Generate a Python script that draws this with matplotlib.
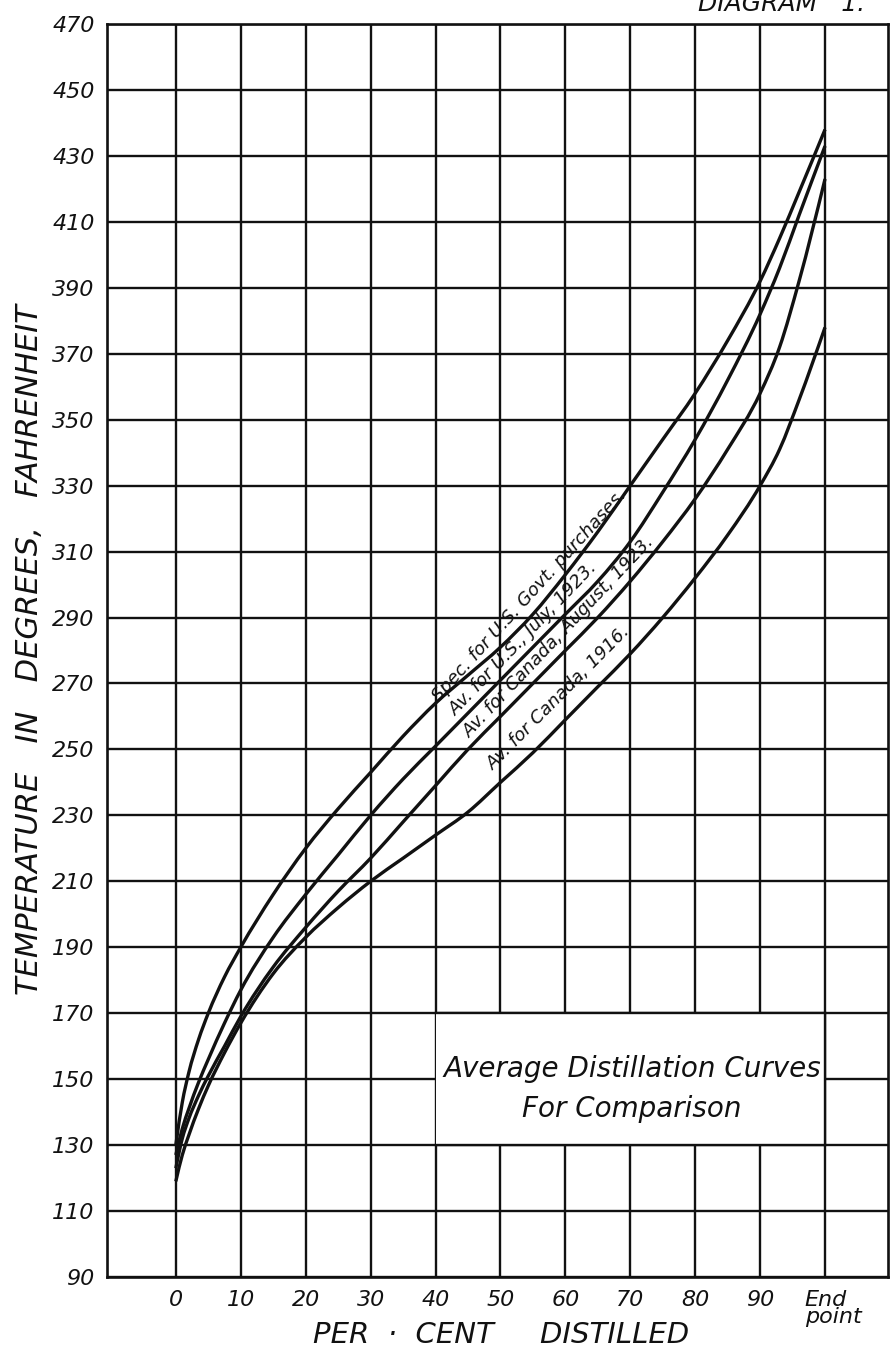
import math
import numpy as np
import matplotlib
matplotlib.use("Agg")
import matplotlib.pyplot as plt
import matplotlib.transforms as mtransforms
from matplotlib.patches import Rectangle, PathPatch
from matplotlib.path import Path

# per cent distilled (100 = end point)
pct = [0, 1, 2, 3.5, 5, 7.5, 10, 15, 20, 25, 30, 35, 40, 45, 50, 55, 60, 65, 70, 75, 80, 85, 90, 93, 96, 100]

spec_us_govt = [130, 143, 152, 162, 170, 181, 190, 206, 220, 232, 243, 254, 264, 272.5, 281, 291,
                303, 316, 330, 344, 358, 374, 392, 405, 419, 438]
av_us_1923 = [127, 135, 141, 149, 156, 167, 177, 193, 206, 218, 230, 241, 251, 261, 271, 281,
              291, 301, 313, 328, 344, 362, 382, 396, 412, 433]
av_canada_aug_1923 = [123, 132, 138, 145, 151, 160, 169, 184, 196, 207, 217, 228, 239, 250, 260, 270,
                      280, 290, 301, 313, 326, 341, 358, 372, 392, 423]
av_canada_1916 = [119, 127, 133, 141, 148, 158, 167, 182, 193, 202, 210, 217, 224, 231, 240, 249,
                  259, 269, 279, 290, 302, 315, 330, 341, 356, 378]

curve_labels = ["Spec. for U.S. Govt. purchases.", "Av. for U.S., July, 1923.",
                "Av. for Canada, August, 1923.", "Av. for Canada, 1916."]
# where along the curve each label is centred (per cent distilled)
label_centres = [54.5, 53.5, 59.0, 59.0]

x_ticks = [0, 10, 20, 30, 40, 50, 60, 70, 80, 90, 100]
x_ticklabels = ["0", "10", "20", "30", "40", "50", "60", "70", "80", "90", "End\npoint"]
y_ticks = list(range(90, 471, 20))

ink = "#111111"
font = dict(family="DejaVu Sans", style="italic", color=ink)


def smooth_curve(xs, ys):
    # cubic hermite segments written as bezier curves through the read points
    n = len(xs)
    h = [xs[i + 1] - xs[i] for i in range(n - 1)]
    d = [(ys[i + 1] - ys[i]) / h[i] for i in range(n - 1)]
    m = [0.0] * n
    for i in range(1, n - 1):
        m[i] = (d[i - 1] * h[i] + d[i] * h[i - 1]) / (h[i - 1] + h[i])
    m[0] = (3 * d[0] - m[1]) / 2
    m[-1] = (3 * d[-1] - m[-2]) / 2
    verts = [(xs[0], ys[0])]
    codes = [Path.MOVETO]
    for i in range(n - 1):
        verts += [(xs[i] + h[i] / 3, ys[i] + m[i] * h[i] / 3),
                  (xs[i + 1] - h[i] / 3, ys[i + 1] - m[i + 1] * h[i] / 3),
                  (xs[i + 1], ys[i + 1])]
        codes += [Path.CURVE4] * 3
    return Path(verts, codes)


fig = plt.figure(figsize=(8.9, 13.5), dpi=100)
ax = fig.add_axes([107 / 890, 1 - 1277 / 1350, 781 / 890, 1253 / 1350])
ax.set_xlim(-10.6, 109.7)
ax.set_ylim(90, 470)

# grid
for x in x_ticks:
    ax.axvline(x, color=ink, lw=1.7, zorder=1)
for y in y_ticks:
    ax.axhline(y, color=ink, lw=1.7, zorder=1)
for s in ax.spines.values():
    s.set_linewidth(1.9)
    s.set_color(ink)

# blank panel for the caption
ax.add_patch(Rectangle((40, 130), 60, 40, facecolor="white", edgecolor="none", zorder=2))
ax.plot([40, 100], [170, 170], color=ink, lw=1.7, zorder=2)
ax.plot([40, 100], [130, 130], color=ink, lw=1.7, zorder=2)
ax.plot([100, 100], [130, 170], color=ink, lw=1.7, zorder=2)
ax.text(70.3, 153, "Average Distillation Curves", ha="center", va="center", fontsize=20, zorder=3, **font)
ax.text(70.3, 141, "For Comparison", ha="center", va="center", fontsize=20, zorder=3, **font)

curves = [spec_us_govt, av_us_1923, av_canada_aug_1923, av_canada_1916]
for ys in curves:
    ax.add_patch(PathPatch(smooth_curve(pct, ys), fill=False, edgecolor=ink, lw=2.4, zorder=4))

# labels: straight text laid along the band between a curve and the one above it
renderer = fig.canvas.get_renderer()
xx = np.linspace(20, 95, 600)
for i, (txt, cx) in enumerate(zip(curve_labels, label_centres)):
    own = ax.transData.transform(np.column_stack([xx, np.interp(xx, pct, curves[i])]))
    if i == 0:
        band = own + np.array([0, 14])
    else:
        upper = ax.transData.transform(np.column_stack([xx, np.interp(xx, pct, curves[i - 1])]))
        share = 0.4 if i == 3 else 0.5
        band = own + share * (upper - own)
    t = ax.text(0, 0, txt, ha="center", va="center", rotation_mode="anchor",
                fontsize=13, zorder=5, **font)
    w = t.get_window_extent(renderer).width
    cxd = ax.transData.transform((cx, 0))[0]
    ang = math.radians(46)
    for _ in range(4):
        half = w / 2 * math.cos(ang) + 4
        sel = (band[:, 0] > cxd - half) & (band[:, 0] < cxd + half)
        slope, icpt = np.polyfit(band[sel, 0], band[sel, 1], 1)
        ang = math.atan(slope)
    cyd = slope * cxd + icpt
    t.set_position(ax.transData.inverted().transform((cxd, cyd)))
    t.set_rotation(math.degrees(ang))

ax.set_xticks(x_ticks)
ax.set_xticklabels(x_ticklabels, fontsize=16, linespacing=0.85, **font)
ax.set_yticks(y_ticks)
ax.set_yticklabels([str(v) for v in y_ticks], fontsize=16, **font)
ax.tick_params(length=0, pad=9)
end_lbl = ax.get_xticklabels()[-1]
end_lbl.set_multialignment("left")
end_lbl.set_transform(end_lbl.get_transform() + mtransforms.ScaledTranslation(8 / 100, 0, fig.dpi_scale_trans))

fig.text(30 / 890, 1 - 650 / 1350, "TEMPERATURE   IN   DEGREES,   FAHRENHEIT", rotation=90,
         ha="center", va="center", fontsize=22, **font)
fig.text(501 / 890, 1 - 1335 / 1350, "PER  ·  CENT     DISTILLED", ha="center", va="center",
         fontsize=21, **font)
fig.text(698 / 890, 1 - 4 / 1350, "DIAGRAM   1.", ha="left", va="center", fontsize=18, **font)

fig.savefig("out.png", dpi=100, facecolor="white")
